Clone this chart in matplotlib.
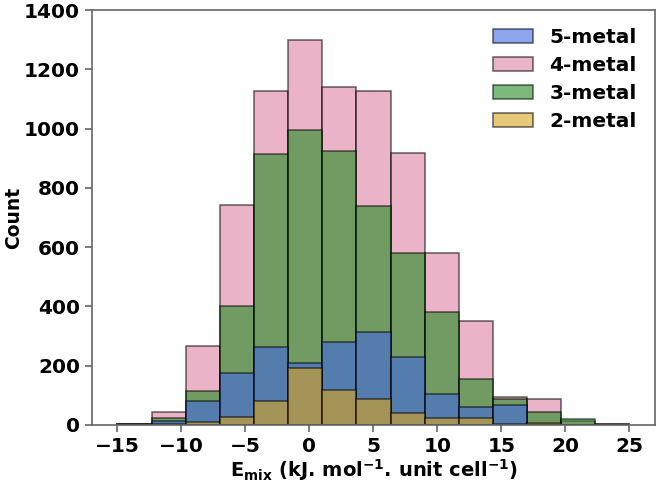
import numpy as np
import matplotlib.pyplot as plt

# bordes de los bins (15 bins entre -15 y 25)
bordes = np.linspace(-15, 25, 16)

# conteos
metal4 = [3, 45, 266, 744, 1127, 1300, 1142, 1128, 918, 582, 351, 95, 87, 15, 2]
metal3 = [3, 25, 116, 402, 915, 996, 925, 739, 581, 381, 155, 87, 43, 20, 4]
metal5 = [2, 13, 80, 176, 263, 208, 281, 313, 228, 103, 60, 67, 3, 0, 0]
metal2 = [1, 3, 11, 28, 82, 191, 118, 87, 41, 22, 22, 2, 5, 0, 0]

series = [("4-metal", metal4, "#de81a4"),
          ("3-metal", metal3, "#228b22"),
          ("5-metal", metal5, "#4169e1"),
          ("2-metal", metal2, "#daa520")]

fig = plt.figure(figsize=(6.61, 4.84), dpi=100)
ax = fig.add_axes([0.139, 0.122, 0.852, 0.857])

ancho = np.diff(bordes)
barras = {}
for nombre, datos, color in series:
    barras[nombre] = ax.bar(bordes[:-1], datos, width=ancho, align="edge",
                            color=color, edgecolor="black", linewidth=1.1,
                            alpha=0.6, label=nombre)

ax.set_xlim(-17, 27)
ax.set_ylim(0, 1400)
ax.set_xticks(np.arange(-15, 26, 5))
ax.set_yticks(np.arange(0, 1401, 200))

for lab in ax.get_xticklabels() + ax.get_yticklabels():
    lab.set_fontweight("bold")
    lab.set_fontsize(14.5)

for s in ax.spines.values():
    s.set_color("#666666")
    s.set_linewidth(1.2)
ax.tick_params(color="#666666", width=1.2, length=5)

ax.set_ylabel("Count", fontsize=13.5, fontweight="bold", labelpad=1)
ax.set_xlabel(r"$\mathbf{E_{mix}}$ (kJ. mol$\mathbf{^{-1}}$. unit cell$\mathbf{^{-1}}$)",
              fontsize=14, fontweight="bold", labelpad=1)

orden = ["5-metal", "4-metal", "3-metal", "2-metal"]
ax.legend([barras[n] for n in orden], orden, loc="upper right", frameon=False,
          prop={"weight": "bold", "size": 14.5}, handlelength=2.0,
          labelspacing=0.45)

fig.savefig("out.png", dpi=100)
